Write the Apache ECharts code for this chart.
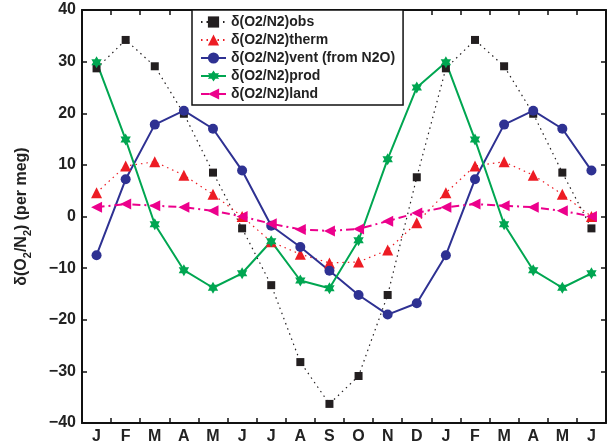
<!DOCTYPE html>
<html>
<head>
<meta charset="utf-8">
<script src="https://cdn.jsdelivr.net/npm/echarts@6/dist/echarts.min.js"></script>
<style>
html,body{margin:0;padding:0;background:#fff;}
#chart{width:613px;height:445px;}
</style>
</head>
<body>
<div id="chart"></div>
<script>
// month axis, J..D then J..J again
var months = ['J','F','M','A','M','J','J','A','S','O','N','D','J','F','M','A','M','J'];

var obs   = [28.7, 34.2, 29.1, 19.9, 8.5, -2.3, -13.3, -28.2, -36.3, -30.9, -15.2, 7.6, 28.7, 34.2, 29.1, 19.9, 8.5, -2.3];
var therm = [4.6, 9.8, 10.6, 8.0, 4.3, 0.0, -4.9, -7.3, -9.0, -8.8, -6.5, -1.2, 4.6, 9.8, 10.6, 8.0, 4.3, 0.0];
var vent  = [-7.5, 7.2, 17.8, 20.5, 17.0, 8.9, -1.8, -5.9, -10.5, -15.2, -19.0, -16.8, -7.5, 7.2, 17.8, 20.5, 17.0, 8.9];
var prod  = [29.9, 14.9, -1.5, -10.4, -13.8, -11.0, -4.8, -12.4, -13.9, -4.6, 11.1, 25.0, 29.9, 14.9, -1.5, -10.4, -13.8, -11.0];
var land  = [1.8, 2.4, 2.1, 1.8, 1.1, 0.0, -1.4, -2.5, -2.8, -2.4, -0.9, 0.7, 1.8, 2.4, 2.1, 1.8, 1.1, 0.0];

var names = ['δ(O2/N2)obs','δ(O2/N2)therm','δ(O2/N2)vent (from N2O)','δ(O2/N2)prod','δ(O2/N2)land'];

var hexagram = 'path://M10 0L12.89 5L18.66 5L15.77 10L18.66 15L12.89 15L10 20L7.11 15L1.34 15L4.23 10L1.34 5L7.11 5Z';
var font = 'Liberation Sans';
var minus = function(v){ return String(v).replace('-', '\u2212'); };

var myChart = echarts.init(document.getElementById('chart'));

var axisCommon = {
    axisLine: {show: true, onZero: false, lineStyle: {color: '#111', width: 2}},
    axisTick: {show: true, inside: true, length: 5, lineStyle: {color: '#111', width: 1.5}}
};

var option = {
    animation: false,
    grid: {left: 82, right: 7, top: 10, bottom: 22},
    legend: {
        left: 192, top: 10,
        orient: 'vertical',
        backgroundColor: '#fff',
        borderColor: '#111',
        borderWidth: 1.5,
        borderRadius: 0,
        padding: [5, 8, 4, 8],
        itemWidth: 25, itemHeight: 14, itemGap: 4,
        textStyle: {fontFamily: font, fontWeight: 'bold', fontSize: 14, color: '#222'},
        data: names
    },
    xAxis: [{
        type: 'category', data: months, position: 'bottom',
        axisLine: axisCommon.axisLine, axisTick: axisCommon.axisTick,
        axisLabel: {fontFamily: font, fontWeight: 'bold', fontSize: 16, color: '#222', margin: 6, interval: 0}
    }, {
        type: 'category', data: months, position: 'top',
        axisLine: axisCommon.axisLine, axisTick: axisCommon.axisTick,
        axisLabel: {show: false}
    }],
    yAxis: [{
        type: 'value', min: -40, max: 40, interval: 10,
        name: '{n|δ(O}{s|2}{n|/N}{s|2}{n|) (per meg)}',
        nameLocation: 'middle', nameGap: 49,
        nameTextStyle: {
            rich: {
                n: {fontFamily: font, fontWeight: 'bold', fontSize: 16, color: '#222', lineHeight: 22},
                s: {fontFamily: font, fontWeight: 'bold', fontSize: 11, color: '#222', lineHeight: 11, verticalAlign: 'bottom'}
            }
        },
        axisLine: axisCommon.axisLine, axisTick: axisCommon.axisTick,
        axisLabel: {fontFamily: font, fontWeight: 'bold', fontSize: 16, color: '#222', margin: 6, formatter: minus},
        splitLine: {show: false}
    }, {
        type: 'value', min: -40, max: 40, interval: 10, position: 'right',
        axisLine: axisCommon.axisLine, axisTick: axisCommon.axisTick,
        axisLabel: {show: false},
        splitLine: {show: false}
    }],
    series: [{
        name: names[0], type: 'line', data: obs,
        symbol: 'rect', symbolSize: 8,
        itemStyle: {color: '#231f20'},
        lineStyle: {color: '#231f20', width: 1.2, type: [1.5, 4]}
    }, {
        name: names[1], type: 'line', data: therm,
        symbol: 'triangle', symbolSize: 11,
        itemStyle: {color: '#ed1c24'},
        lineStyle: {color: '#ed1c24', width: 1.2, type: [1.5, 4]}
    }, {
        name: names[2], type: 'line', data: vent,
        symbol: 'circle', symbolSize: 10,
        itemStyle: {color: '#2e3192'},
        lineStyle: {color: '#2e3192', width: 2}
    }, {
        name: names[3], type: 'line', data: prod,
        symbol: hexagram, symbolSize: 12, symbolKeepAspect: true,
        itemStyle: {color: '#00a651'},
        lineStyle: {color: '#00a651', width: 2}
    }, {
        name: names[4], type: 'line', data: land,
        symbol: 'triangle', symbolSize: 11, symbolRotate: 90,
        itemStyle: {color: '#ec008c'},
        lineStyle: {color: '#ec008c', width: 2, type: [8, 4, 2, 4]}
    }]
};

myChart.setOption(option);
</script>
</body>
</html>
